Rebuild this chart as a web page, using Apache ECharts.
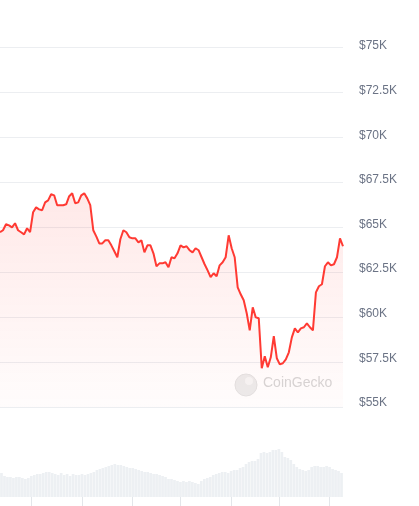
<!DOCTYPE html>
<html>
<head>
<meta charset="utf-8">
<script src="https://cdn.jsdelivr.net/npm/echarts@6/dist/echarts.min.js"></script>
<style>
  html, body { margin: 0; padding: 0; background: #fff; }
  #chart { width: 419px; height: 506px; }
</style>
</head>
<body>
<div id="chart"></div>
<script>
/** price in USD, one point per period */
const prices = [
  64710, 64820, 65150, 65090, 64980, 65210, 64820, 64710, 64590, 64930,
  64710, 65820, 66090, 65980, 65930, 66370, 66480, 66820, 66760, 66210,
  66210, 66210, 66260, 66710, 66870, 66320, 66370, 66760, 66870, 66590,
  66210, 64820, 64480, 64090, 64090, 64260, 64260, 63980, 63650, 63320,
  64320, 64820, 64710, 64430, 64370, 64370, 64150, 64260, 63590, 63980,
  63980, 63540, 62820, 62980, 62980, 63040, 62760, 63320, 63260, 63540,
  63980, 63870, 63930, 63710, 63590, 63820, 63710, 63320, 62930, 62590,
  62210, 62430, 62260, 62870, 63040, 63320, 64540, 63820, 63320, 61650,
  61260, 60930, 60210, 59260, 60540, 59980, 59930, 57150, 57820, 57210,
  57760, 58930, 57710, 57370, 57430, 57650, 58040, 58870, 59370, 59150,
  59370, 59430, 59650, 59430, 59260, 61370, 61710, 61820, 62820, 63040,
  62870, 62930, 63320, 64370, 63930,
];

/** traded volume, billions USD */
const volumes = [
  24, 21, 20, 20, 19, 20, 20, 19, 18, 19,
  21, 22, 23, 23, 24, 25, 25, 24, 23, 22,
  24, 22, 23, 21, 23, 22, 22, 23, 22, 23,
  24, 25, 27, 28, 29, 30, 31, 32, 33, 32,
  32, 31, 30, 29, 29, 28, 27, 26, 25, 25,
  24, 23, 23, 22, 21, 20, 18, 18, 17, 16,
  15, 16, 15, 16, 15, 14, 13, 16, 18, 19,
  20, 22, 23, 24, 25, 25, 24, 26, 27, 27,
  29, 30, 33, 35, 36, 36, 38, 44, 45, 44,
  45, 47, 47, 48, 45, 40, 39, 37, 33, 30,
  28, 27, 26, 27, 30, 31, 31, 30, 30, 31,
  30, 28, 27, 26, 24,
];

/** positions (in periods) that get a tick under the volume bars */
const tickIdx = [10, 27, 44, 60, 77, 93, 110];

const periods = prices.map((_, i) => i);

const priceMin = 55000;
const priceMax = 75000;
const priceStep = 2500;

const chart = echarts.init(document.getElementById("chart"), null, {
  renderer: "canvas",
});

const labelStyle = {
  margin: 16,
  color: "#6b7385",
  fontSize: 12,
  fontFamily: "Liberation Sans, Arial, sans-serif",
  formatter: (v) => "$" + v / 1000 + "K",
};

const option = {
  animation: false,
  grid: [
    /** price */
    { left: 0, right: 76, top: 47, bottom: 99 },
    /** volume */
    { left: 0, right: 76, top: 447, bottom: 9 },
    /** price labels sit a little above their gridlines */
    { left: 0, right: 76, top: 46, bottom: 103 },
  ],
  xAxis: [
    {
      type: "category",
      gridIndex: 0,
      boundaryGap: false,
      data: periods,
      show: false,
    },
    {
      type: "category",
      gridIndex: 1,
      boundaryGap: true,
      data: periods,
      axisLine: { show: false },
      axisLabel: { show: false },
      axisTick: {
        show: true,
        alignWithLabel: true,
        interval: (i) => tickIdx.includes(i),
        length: 9,
        lineStyle: { color: "#e3e6ea", width: 1 },
      },
    },
    {
      type: "category",
      gridIndex: 2,
      data: periods,
      show: false,
    },
  ],
  yAxis: [
    {
      type: "value",
      gridIndex: 0,
      position: "right",
      min: priceMin,
      max: priceMax,
      interval: priceStep,
      axisLine: { show: false },
      axisTick: { show: false },
      axisLabel: { show: false },
      splitLine: { lineStyle: { color: "#eceef1", width: 1 } },
    },
    {
      type: "value",
      gridIndex: 1,
      min: 0,
      max: 50,
      show: false,
      splitLine: { show: false },
    },
    {
      type: "value",
      gridIndex: 2,
      position: "right",
      min: priceMin,
      max: priceMax,
      interval: priceStep,
      axisLine: { show: false },
      axisTick: { show: false },
      splitLine: { show: false },
      axisLabel: labelStyle,
    },
  ],
  graphic: [
    {
      type: "circle",
      z: 1,
      shape: { cx: 246, cy: 385, r: 11 },
      style: { fill: "#ececec", stroke: "#e2e2e2", lineWidth: 1 },
    },
    {
      type: "circle",
      z: 1,
      shape: { cx: 249, cy: 381, r: 4 },
      style: { fill: "#f6f6f6" },
    },
    {
      type: "text",
      z: 1,
      left: 263,
      top: 376,
      style: {
        text: "CoinGecko",
        fill: "#d6d6d6",
        font: "500 14px 'Liberation Sans', Arial, sans-serif",
      },
    },
  ],
  series: [
    {
      type: "line",
      xAxisIndex: 0,
      yAxisIndex: 0,
      data: prices,
      showSymbol: false,
      z: 3,
      lineStyle: { color: "#ff3a33", width: 2 },
      areaStyle: {
        origin: "start",
        color: new echarts.graphic.LinearGradient(0, 0, 0, 1, [
          { offset: 0, color: "rgba(255, 58, 51, 0.16)" },
          { offset: 1, color: "rgba(255, 58, 51, 0.02)" },
        ]),
      },
    },
    {
      type: "bar",
      xAxisIndex: 1,
      yAxisIndex: 1,
      data: volumes,
      barCategoryGap: "10%",
      itemStyle: { color: "#edf0f3" },
    },
  ],
};

chart.setOption(option);
</script>
</body>
</html>
